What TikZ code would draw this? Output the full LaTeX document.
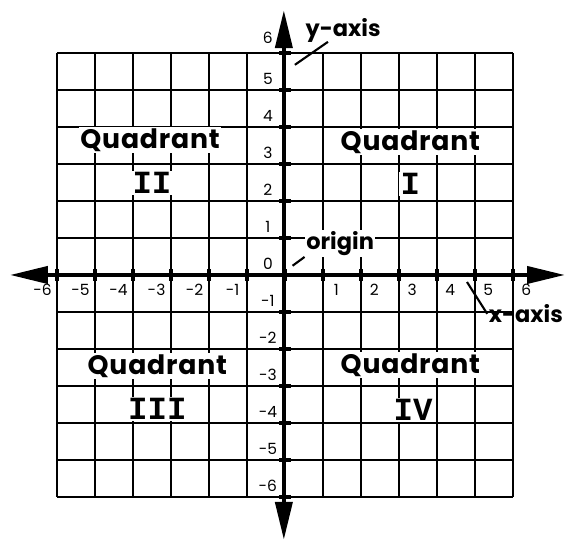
\documentclass[tikz,border=0pt]{standalone}
\usepackage{fontspec}
\setmainfont{Poppins}
\newfontfamily\quadfont{Poppins}[LetterSpace=3]
\newfontfamily\romanfont{Liberation Mono}
\usetikzlibrary{arrows.meta,calc}

\tikzset{
  gridline/.style={line width=1.4pt},
  axisline/.style={line width=3pt},
  axtick/.style={line width=2.5pt},
  leader/.style={line width=1.5pt},
  quad/.style={fill=white, inner sep=1pt, font=\quadfont\bfseries\fontsize{19}{19}\selectfont},
  roman/.style={fill=white, inner sep=1pt, font=\romanfont\bfseries\fontsize{23}{23}\selectfont},
  num/.style={inner sep=0pt, font=\fontsize{11}{11}\selectfont},
  axlabel/.style={inner sep=1pt, font=\bfseries\fontsize{16}{16}\selectfont}
}

\begin{document}
\begin{tikzpicture}[x=0.95cm, y=0.925cm]
  \useasboundingbox (-7.5,-7.216) rectangle (7.474,7.432);
  \foreach \k in {-6,...,6} {
    \draw[gridline] (\k,-6) -- (\k,6);
    \draw[gridline] (-6,\k) -- (6,\k);
  }
  \coordinate (left)   at (-7.24,0);
  \coordinate (right)  at (7.37,0);
  \coordinate (top)    at (-0.03,7.16);
  \coordinate (bottom) at (-0.03,-7.16);
  \draw[axisline, {Triangle[length=27pt,width=12pt]}-{Triangle[length=27pt,width=12pt]}] (left) -- (right);
  \draw[axisline, {Triangle[length=27pt,width=12pt]}-{Triangle[length=27pt,width=12pt]}] (bottom) -- (top);
  \foreach \k in {-6,...,6} {
    \draw[axtick] (\k,-0.15) -- (\k,0.15);
    \draw[axtick] (-0.15,\k) -- (0.15,\k);
  }
  \foreach \k in {-6,...,5}
    \node[num] (ylab\k) at (-0.45,\k+0.3) {\k};
  \node[num] (ylab6) at (-0.45,6.4) {6};
  \foreach \k in {-6,...,-1}
    \node[num] (xlab\k) at (\k-0.38,-0.4) {\k};
  \foreach \k in {1,...,6}
    \node[num] (xlab\k) at (\k+0.35,-0.4) {\k};
  \node[quad]  (quadI)     at (3.3,3.6)     {Quadrant};
  \node[roman] (romanI)    at (3.3,2.46)    {I};
  \node[quad]  (quadII)    at (-3.55,3.65)  {Quadrant};
  \node[roman] (romanII)   at (-3.5,2.48)   {II};
  \node[quad]  (quadIII)   at (-3.36,-2.46) {Quadrant};
  \node[roman] (romanIII)  at (-3.36,-3.62) {III};
  \node[quad]  (quadIV)    at (3.3,-2.43)   {Quadrant};
  \node[roman] (romanIV)   at (3.37,-3.65)  {IV};
  \node[axlabel] (yname) at (1.53,6.62) {y-axis};
  \coordinate (yaxis) at (0.26,5.68);
  \draw[leader] ($(yname.south)+(-0.4,0.05)$) -- (yaxis);
  \node[axlabel, fill=white] (oname) at (1.45,0.86) {origin};
  \coordinate (origin) at (0.2,0.25);
  \draw[leader] (oname.south west) -- (origin);
  \node[axlabel] (xname) at (6.34,-1.05) {x-axis};
  \coordinate (xaxis) at (4.79,-0.19);
  \draw[leader] (xaxis) -- (xname.west);
\end{tikzpicture}
\end{document}
